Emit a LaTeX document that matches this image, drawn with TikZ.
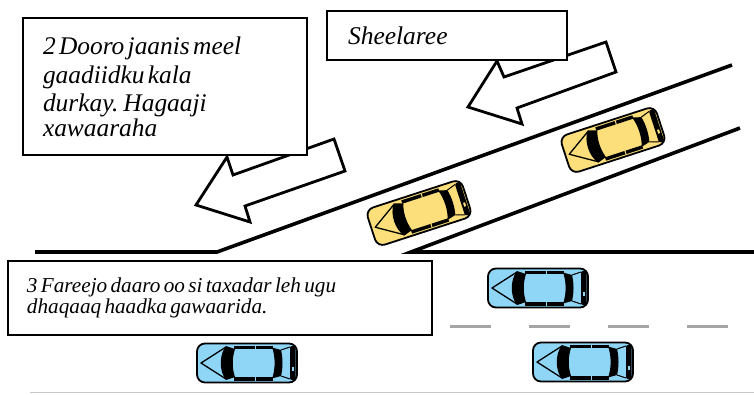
\documentclass[tikz,border=0pt]{standalone}
\usepackage{fontspec}
\setmainfont{Liberation Serif}
\definecolor{caryellow}{RGB}{252,222,122}
\definecolor{carblue}{RGB}{142,213,246}
\definecolor{lanegray}{RGB}{165,165,165}
\definecolor{edgegray}{RGB}{200,200,200}
\begin{document}
\begin{tikzpicture}[x=1pt,y=-1pt,
  road/.style={line width=3.6pt, line join=miter},
  lane/.style={draw=lanegray, line width=3pt, dash pattern=on 41pt off 38pt},
  labelbox/.style={draw, line width=1.8pt, fill=white, inner ysep=0pt, align=left, font=\itshape},
  hollowarrow/.style={draw, fill=white, line width=2.8pt, line join=miter},
  pics/car/.style={code={
    % body
    \filldraw[fill=#1, draw=black, line width=1.8pt, rounded corners=8pt]
      (-50,-19.5) rectangle (50,19.5);
    % rear bumper with tail light
    \fill[black, rounded corners=2pt] (43,-17) rectangle (48.5,17);
    \fill[#1] (45,4) rectangle (47,8);
    % bonnet lines
    \draw[line width=1.3pt, line join=round] (-21,-16) -- (-46,0) -- (-21,16);
    % windscreen
    \fill (-21,-17) .. controls (-28,-8) and (-28,8) .. (-21,17)
      -- (-12,14) .. controls (-15,5) and (-15,-5) .. (-12,-14) -- cycle;
    % side windows
    \fill (-13,-17.5) rectangle (26,-14);
    \fill (-13,14) rectangle (26,17.5);
    \draw[#1, line width=1pt] (8,-18) -- (8,-13.5) (8,13.5) -- (8,18);
    % rear window
    \fill (25,-15.5) .. controls (28.5,-7) and (28.5,7) .. (25,15.5)
      -- (34,13) .. controls (36,5) and (36,-5) .. (34,-13) -- cycle;
    \draw[line width=1pt] (34,-13) -- (43,-16) (34,13) -- (43,16);
  }}
]
\useasboundingbox (0,0) rectangle (754,394);

% road edges
\draw[road] (35,252) -- (217,252) -- (732,65);
\draw[road] (754,252) -- (411,252) -- (740,128);

% lane markings
\draw[lane] (450,326) -- (729,326);
\draw[edgegray, line width=1.5pt] (30,392.5) -- (754,392.5);

% direction arrows
\draw[hollowarrow] (334,139) -- (345,171) -- (245,206) -- (250,222)
  -- (196,205) -- (227,157) -- (233,175) -- cycle;
\draw[hollowarrow] (606,42) -- (616,72) -- (517,108) -- (522,124)
  -- (468,107) -- (497,61) -- (504,77) -- cycle;

% text boxes
\node[labelbox, inner xsep=20pt, text width=244pt, minimum height=137pt]
  (advice) at (165,86.5)
  {\fontsize{25.4}{28.8}\selectfont 2 Dooro jaanis meel\\gaadiidku kala\\durkay. Hagaaji\\xawaaraha};
\node[labelbox, inner xsep=21pt, text width=198pt, minimum height=49pt]
  (ramp) at (447,35.5)
  {\fontsize{25.5}{30}\selectfont Sheelaree};
\node[labelbox, inner xsep=19pt, text width=386pt, minimum height=74pt]
  (caution) at (220,298)
  {\fontsize{21.2}{29}\selectfont 3 Fareejo daaro oo si taxadar leh ugu\\dhaqaaq haadka gawaarida.};

% vehicles
\pic[rotate=18] (mergeA) at (419,213) {car=caryellow};
\pic[rotate=18] (mergeB) at (613,140) {car=caryellow};
\pic (laneA) at (538,288) {car=carblue};
\pic (laneB) at (247,363) {car=carblue};
\pic (laneC) at (583,362) {car=carblue};
\end{tikzpicture}
\end{document}
